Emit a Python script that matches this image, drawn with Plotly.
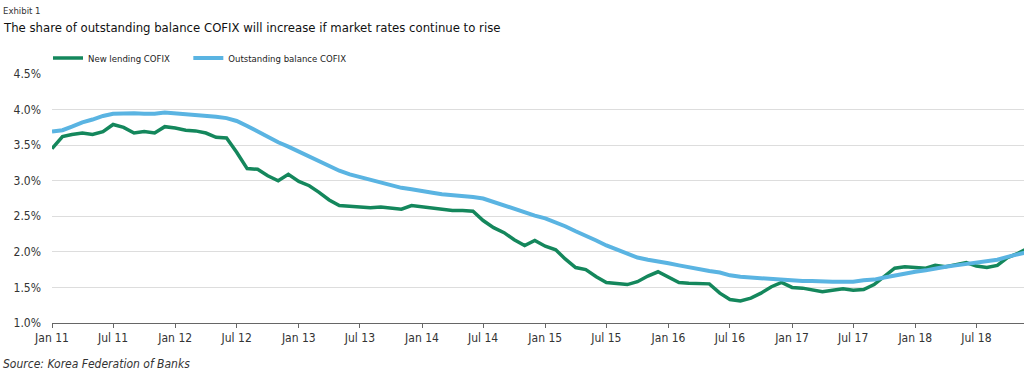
import pandas as pd
import plotly.graph_objects as go

months = [d.strftime("%Y-%m-%d") for d in pd.date_range("2011-01-01", periods=96, freq="MS")]

new_lending = [3.45, 3.62, 3.65, 3.67, 3.65, 3.69, 3.79, 3.75, 3.67, 3.69, 3.67, 3.76,
               3.74, 3.71, 3.70, 3.67, 3.61, 3.60, 3.40, 3.17, 3.16, 3.07, 3.00, 3.09,
               2.99, 2.93, 2.84, 2.73, 2.65, 2.64, 2.62, 2.62, 2.63, 2.62, 2.60, 2.65,
               2.63, 2.62, 2.59, 2.58, 2.58, 2.57, 2.44, 2.34, 2.27, 2.17, 2.09, 2.16,
               2.08, 2.03, 1.90, 1.78, 1.75, 1.65, 1.57, 1.55, 1.54, 1.58, 1.66, 1.72,
               1.64, 1.57, 1.56, 1.56, 1.55, 1.42, 1.33, 1.31, 1.35, 1.42, 1.51, 1.57,
               1.50, 1.49, 1.47, 1.44, 1.46, 1.48, 1.46, 1.47, 1.54, 1.65, 1.77, 1.79,
               1.78, 1.77, 1.81, 1.79, 1.82, 1.85, 1.80, 1.78, 1.81, 1.92, 1.98, 2.05]

outstanding = [3.69, 3.71, 3.76, 3.82, 3.86, 3.91, 3.94, 3.95, 3.95, 3.94, 3.94, 3.96,
               3.95, 3.93, 3.92, 3.91, 3.90, 3.88, 3.84, 3.77, 3.69, 3.61, 3.54, 3.48,
               3.41, 3.34, 3.27, 3.20, 3.14, 3.09, 3.05, 3.01, 2.98, 2.93, 2.90, 2.88,
               2.85, 2.83, 2.81, 2.80, 2.79, 2.77, 2.75, 2.70, 2.66, 2.61, 2.56, 2.51,
               2.47, 2.42, 2.36, 2.29, 2.23, 2.16, 2.09, 2.03, 1.98, 1.92, 1.89, 1.87,
               1.84, 1.81, 1.78, 1.76, 1.73, 1.71, 1.67, 1.65, 1.64, 1.62, 1.62, 1.60,
               1.59, 1.59, 1.59, 1.58, 1.58, 1.58, 1.58, 1.60, 1.61, 1.64, 1.67, 1.70,
               1.72, 1.74, 1.77, 1.79, 1.81, 1.83, 1.85, 1.87, 1.89, 1.93, 1.97, 2.00]

y_ticks = [1.0, 1.5, 2.0, 2.5, 3.0, 3.5, 4.0, 4.5]
y_tick_labels = ["1.0%", "1.5%", "2.0%", "2.5%", "3.0%", "3.5%", "4.0%", "4.5%"]

series_names = ["New lending COFIX", "Outstanding balance COFIX"]
title_text = "The share of outstanding balance COFIX will increase if market rates continue to rise"
exhibit_text = "Exhibit 1"
source_text = "Source: Korea Federation of Banks"

GREEN = "#14875c"
BLUE = "#5ab4e2"
FONT = "DejaVu Sans Condensed, sans-serif"
PAD = "\u00a0" * 5

fig = go.Figure()
fig.add_trace(go.Scatter(x=months, y=new_lending, mode="lines", name=series_names[0] + PAD,
                         line=dict(color=GREEN, width=3.5)))
fig.add_trace(go.Scatter(x=months, y=outstanding, mode="lines", name=series_names[1],
                         line=dict(color=BLUE, width=4)))

L, R, T, B = 52, 0, 74, 55
W, H = 1024, 378
pw = W - L - R
ph = H - T - B

def px(x):
    return (x - L) / pw

def py(y):
    return (H - B - y) / ph

fig.update_layout(
    width=W, height=H,
    margin=dict(l=L, r=R, t=T, b=B, autoexpand=False),
    paper_bgcolor="white", plot_bgcolor="white",
    font=dict(family=FONT, size=12, color="#333333"),
    showlegend=True,
    legend=dict(orientation="h", x=px(48), xanchor="left", y=py(58), yanchor="middle",
                font=dict(family=FONT, size=9.5, color="#222222"),
                bgcolor="rgba(0,0,0,0)", itemwidth=30, tracegroupgap=0),
    xaxis=dict(range=["2011-01-01", "2018-11-19"], tickformat="%b %y", dtick="M6",
               tick0="2011-01-01", ticks="outside", ticklen=4, tickcolor="#666666",
               showline=True, linecolor="#666666", linewidth=1, showgrid=False,
               tickfont=dict(family=FONT, size=12, color="#333333"), zeroline=False),
    yaxis=dict(range=[1.0, 4.5], tickvals=y_ticks, ticktext=y_tick_labels,
               showgrid=True, gridcolor="#dddddd", gridwidth=1, zeroline=False,
               showline=False, ticks="", ticklabelstandoff=10,
               tickfont=dict(family=FONT, size=12, color="#333333")),
    annotations=[
        dict(text=exhibit_text, xref="paper", yref="paper", x=px(1), y=py(11),
             xanchor="left", yanchor="middle", showarrow=False,
             font=dict(family=FONT, size=9.5, color="#333333")),
        dict(text=title_text, xref="paper", yref="paper", x=px(1), y=py(28),
             xanchor="left", yanchor="middle", showarrow=False,
             font=dict(family=FONT, size=13, color="#111111")),
        dict(text="<i>" + source_text + "</i>", xref="paper", yref="paper", x=px(1), y=py(364),
             xanchor="left", yanchor="middle", showarrow=False,
             font=dict(family=FONT, size=12, color="#333333")),
    ],
)

fig.write_html("out.html", config={"displayModeBar": False},
               post_script="document.body.style.margin='0';document.body.style.padding='0';")
